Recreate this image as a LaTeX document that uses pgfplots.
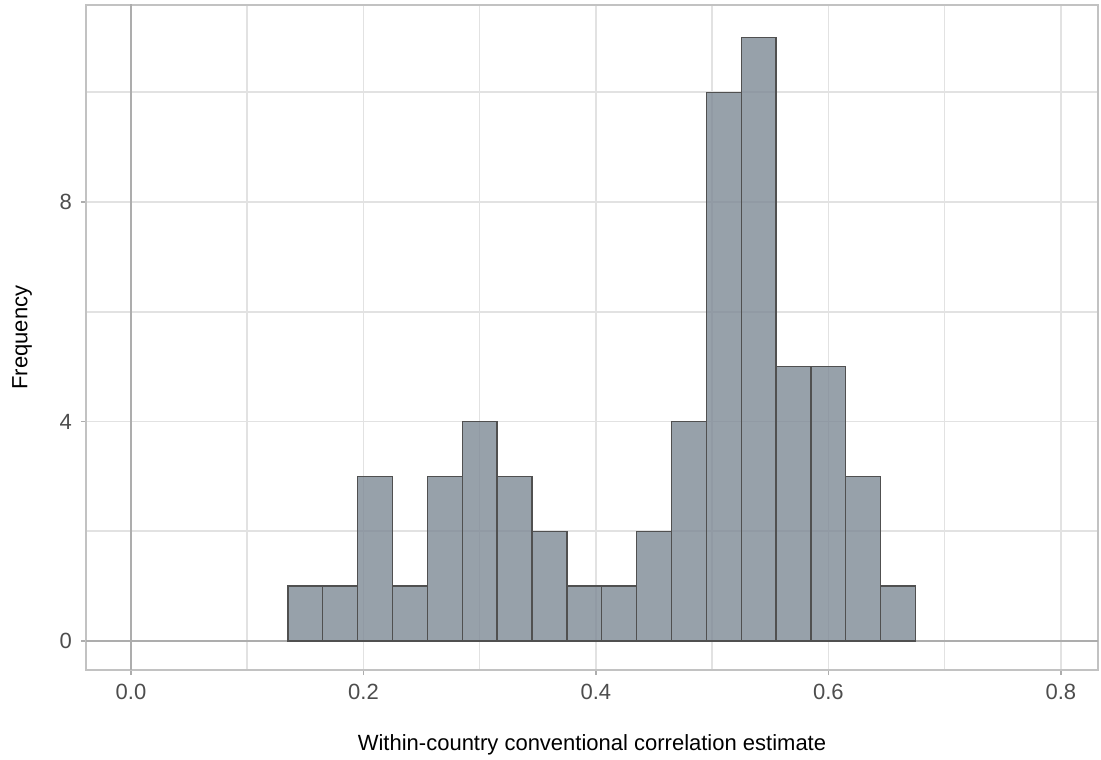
\documentclass[border=0pt]{standalone}
\usepackage{pgfplots}
\pgfplotsset{compat=1.18}
\usepackage{fontspec}
\setmainfont{Liberation Sans}
\definecolor{barfill}{HTML}{7D8995}
\definecolor{baredge}{HTML}{505050}
\definecolor{gridc}{HTML}{E2E2E2}
\definecolor{framec}{HTML}{C2C2C2}
\definecolor{refc}{HTML}{ADADAD}
\definecolor{tickc}{HTML}{4D4D4D}
\begin{document}
\begin{tikzpicture}[x=1pt,y=1pt]
\useasboundingbox (0,0) rectangle (550.5,379.5);
\begin{axis}[
  at={(43pt,44.5pt)}, anchor=south west,
  scale only axis, width=506pt, height=332.5pt,
  xmin=-0.0387, xmax=0.832, ymin=-0.53, ymax=11.59,
  xtick={0,0.2,0.4,0.6,0.8}, xticklabels={0.0,0.2,0.4,0.6,0.8},
  minor xtick={0.1,0.3,0.5,0.7},
  ytick={0,4,8}, yticklabels={0,4,8},
  minor ytick={2,6,10},
  /pgf/number format/assume math mode=true,
  grid=both,
  major grid style={draw=gridc, line width=0.8pt},
  minor grid style={draw=gridc, line width=0.8pt},
  axis line style={draw=framec, line width=0.9pt},
  tick align=outside, tick pos=left,
  major tick length=2.5pt, minor tick length=0pt,
  major tick style={draw=refc, line width=0.8pt},
  tick label style={font=\fontsize{11}{12}\selectfont, text=tickc},
  xticklabel style={yshift=-1pt},
  yticklabel style={xshift=-1pt},
  label style={font=\fontsize{11}{12}\selectfont, text=black},
  xlabel={Within-country conventional correlation estimate},
  ylabel={Frequency},
  xlabel style={at={(axis description cs:0.5,-0.1128)}, anchor=center},
  ylabel style={at={(axis description cs:-0.0632,0.5)}, anchor=center},
  clip=true,
]
\addplot[draw=refc, line width=0.9pt, forget plot] coordinates {(0,-1) (0,12)};
\addplot[draw=refc, line width=0.9pt, forget plot] coordinates {(-0.1,0) (0.9,0)};
\addplot[ybar interval, fill=barfill, fill opacity=0.8, draw=baredge, draw opacity=1, line width=0.65pt]
coordinates {
(0.135,1) (0.165,1) (0.195,3) (0.225,1) (0.255,3) (0.285,4)
(0.315,3) (0.345,2) (0.375,1) (0.405,1) (0.435,2) (0.465,4)
(0.495,10) (0.525,11) (0.555,5) (0.585,5) (0.615,3) (0.645,1)
(0.675,1)
};
\end{axis}
\end{tikzpicture}
\end{document}
